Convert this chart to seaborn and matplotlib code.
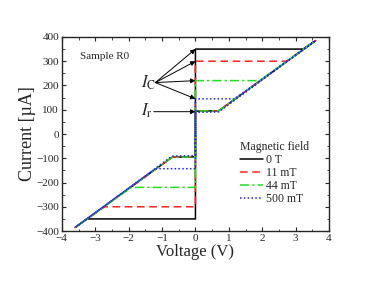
import numpy as np
import pandas as pd
import seaborn as sns
from matplotlib import pyplot as plt
from matplotlib.ticker import MultipleLocator

# fields and values
fields = ['0 T', '11 mT', '44 mT', '500 mT']
ic_pos = [350, 300, 220, 145]     # critical current, positive sweep (uA)
ic_neg = [-350, -300, -220, -143]
v_jump_pos = [3.22, 2.72, 1.92, 1.17]   # voltage where the jump meets the resistive branch
v_jump_neg = [-3.25, -2.72, -1.92, -1.2]
ir_pos = [94, 94, 94, 89]         # retrapping current
ir_neg = [-94, -94, -94, -89]
v_knee = [0.7, 0.7, 0.7, 0.7]
v_end = 3.6
i_end = 385

colors = ['black', '#ff2020', '#20e020', '#2020ff']
dashes = ['-', (0, (5, 3)), (0, (6, 2, 1.5, 2)), (0, (1, 1.5))]

sns.set_style('ticks')
plt.rcParams['font.family'] = ['Liberation Serif', 'DejaVu Serif']
plt.rcParams['mathtext.fontset'] = 'stix'

fig = plt.figure(figsize=(3.66, 2.91), dpi=100)
ax = fig.add_axes([0.169, 0.206, 0.73, 0.667])

rows = []
for k, name in enumerate(fields):
    path = [
        (0, 0), (0, ic_pos[k]), (v_jump_pos[k], ic_pos[k]), (v_end, i_end),
        (v_knee[k], ir_pos[k] + 2), (0, ir_pos[k]), (0, ic_neg[k]),
        (v_jump_neg[k], ic_neg[k]), (-v_end, -i_end),
        (-v_knee[k], ir_neg[k] - 2), (0, ir_neg[k]), (0, 0),
    ]
    for j, (v, i) in enumerate(path):
        rows.append({'field': name, 'order': j, 'V': v, 'I': i})
df = pd.DataFrame(rows)

for k, name in enumerate(fields):
    sub = df[df.field == name]
    sns.lineplot(data=sub, x='V', y='I', sort=False, estimator=None, ax=ax,
                 color=colors[k], linestyle=dashes[k], linewidth=1.1, label=name)

ax.set_xlim(-4, 4)
ax.set_ylim(-400, 400)
ax.xaxis.set_major_locator(MultipleLocator(1))
ax.xaxis.set_minor_locator(MultipleLocator(0.5))
ax.yaxis.set_major_locator(MultipleLocator(100))
ax.yaxis.set_minor_locator(MultipleLocator(50))
ax.tick_params(which='both', direction='in', top=True, right=True, labelsize=8, pad=2)
ax.tick_params(which='major', length=3)
ax.tick_params(which='minor', length=1.8)
for s in ax.spines.values():
    s.set_linewidth(1.0)
ax.set_xlabel('Voltage (V)', fontsize=12, labelpad=1)
ax.set_ylabel('Current [\u00b5A]', fontsize=13, labelpad=0)

ax.text(-3.45, 318, 'Sample R0', fontsize=8, va='center', ha='left')

# arrows to the critical and retrapping currents
for ic in ic_pos:
    ax.annotate('', xy=(0, ic), xytext=(-1.2, 212),
                arrowprops=dict(arrowstyle='-|>', color='black', lw=0.7,
                                mutation_scale=7, shrinkA=0, shrinkB=0))
ax.text(-1.62, 210, r'$I_\mathrm{C}$', fontsize=12, va='center', ha='left')
ax.annotate('', xy=(0, 92), xytext=(-1.25, 92),
            arrowprops=dict(arrowstyle='-|>', color='black', lw=0.7,
                            mutation_scale=7, shrinkA=0, shrinkB=0))
ax.text(-1.64, 96, r'$I_\mathrm{r}$', fontsize=12, va='center', ha='left')

leg = ax.legend(title='Magnetic field', loc='lower right', bbox_to_anchor=(0.955, 0.09),
                frameon=False, fontsize=8.5, title_fontsize=8.5, handlelength=2.0,
                handletextpad=0.2, labelspacing=0.1, borderpad=0.2)
leg._legend_box.align = 'left'

fig.savefig('out.png', dpi=100)
